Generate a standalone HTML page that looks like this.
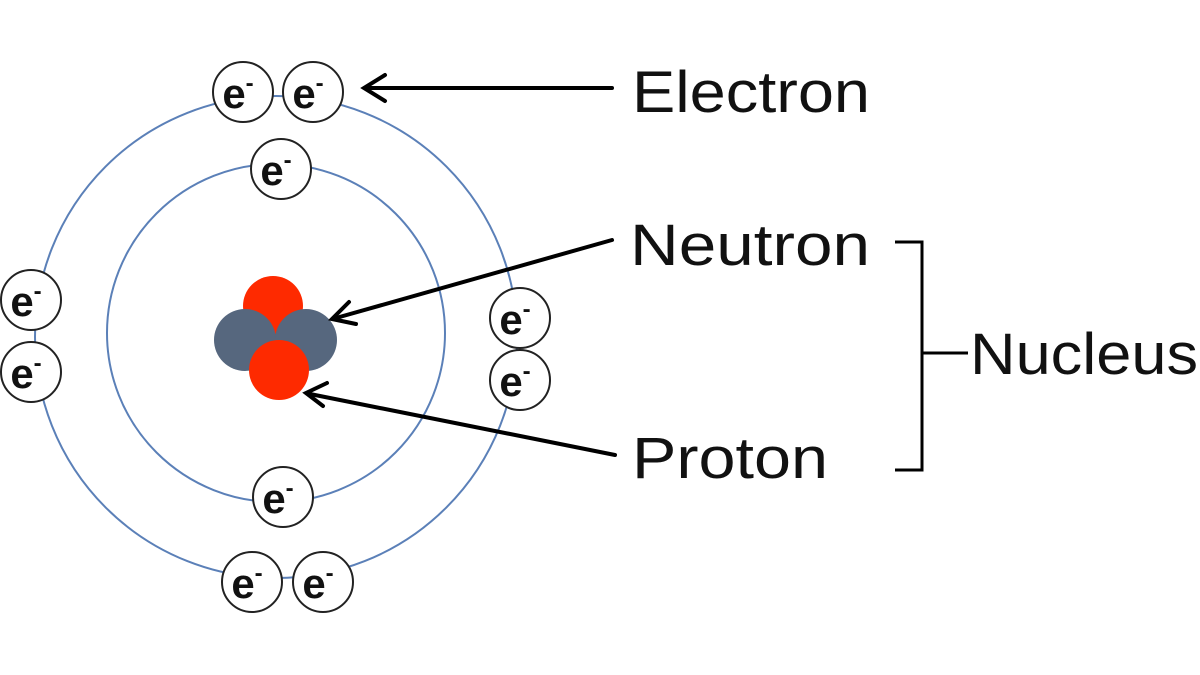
<!DOCTYPE html>
<html><head><style>body{margin:0;background:#fff}svg{display:block}</style></head><body>
<svg width="1200" height="675" viewBox="0 0 1200 675" xmlns="http://www.w3.org/2000/svg" font-family="Liberation Sans, sans-serif">
<circle cx="276" cy="337" r="241" fill="none" stroke="#5b80b8" stroke-width="2"/>
<circle cx="276" cy="333" r="169" fill="none" stroke="#5b80b8" stroke-width="2"/>
<circle cx="273" cy="306" r="30" fill="#fe2a00"/>
<circle cx="245" cy="340" r="31" fill="#56677e"/>
<circle cx="306" cy="340" r="31" fill="#56677e"/>
<circle cx="279" cy="370" r="30" fill="#fe2a00"/>
<g fill="#fff" stroke="#222" stroke-width="2">
<circle cx="243" cy="92" r="30"/><circle cx="313" cy="92" r="30"/>
<circle cx="281" cy="169" r="30"/>
<circle cx="31" cy="300" r="30"/><circle cx="31" cy="372" r="30"/>
<circle cx="520" cy="318" r="30"/><circle cx="520" cy="380" r="30"/>
<circle cx="283" cy="497" r="30"/>
<circle cx="252" cy="582" r="30"/><circle cx="323" cy="582" r="30"/>
</g>
<g font-size="42" font-weight="bold" fill="#111" text-anchor="middle">
<text x="238" y="108">e<tspan font-size="24" dy="-17">-</tspan></text>
<text x="308" y="108">e<tspan font-size="24" dy="-17">-</tspan></text>
<text x="276" y="185">e<tspan font-size="24" dy="-17">-</tspan></text>
<text x="26" y="316">e<tspan font-size="24" dy="-17">-</tspan></text>
<text x="26" y="388">e<tspan font-size="24" dy="-17">-</tspan></text>
<text x="515" y="334">e<tspan font-size="24" dy="-17">-</tspan></text>
<text x="515" y="396">e<tspan font-size="24" dy="-17">-</tspan></text>
<text x="278" y="513">e<tspan font-size="24" dy="-17">-</tspan></text>
<text x="247" y="598">e<tspan font-size="24" dy="-17">-</tspan></text>
<text x="318" y="598">e<tspan font-size="24" dy="-17">-</tspan></text>
</g>
<g stroke="#000" stroke-width="4" fill="none" stroke-linecap="round">
<line x1="612" y1="88" x2="368" y2="88"/><path d="M385,75 L364,88 L385,101"/>
<line x1="612" y1="240" x2="336" y2="318"/><path d="M349,302 L332,319 L356,324"/>
<line x1="615" y1="455" x2="310" y2="394"/><path d="M327,383 L306,393 L323,406"/>
<path d="M895,242 L922,242 L922,470 L895,470 M922,353 L968,353" stroke-width="3" stroke-linecap="butt"/>
</g>
<g font-size="58" fill="#111">
<text x="632" y="112" textLength="238" lengthAdjust="spacingAndGlyphs">Electron</text>
<text x="630" y="265" textLength="240" lengthAdjust="spacingAndGlyphs">Neutron</text>
<text x="632" y="478" textLength="196" lengthAdjust="spacingAndGlyphs">Proton</text>
<text x="970" y="374" textLength="228" lengthAdjust="spacingAndGlyphs">Nucleus</text>
</g>
</svg>
</body></html>
